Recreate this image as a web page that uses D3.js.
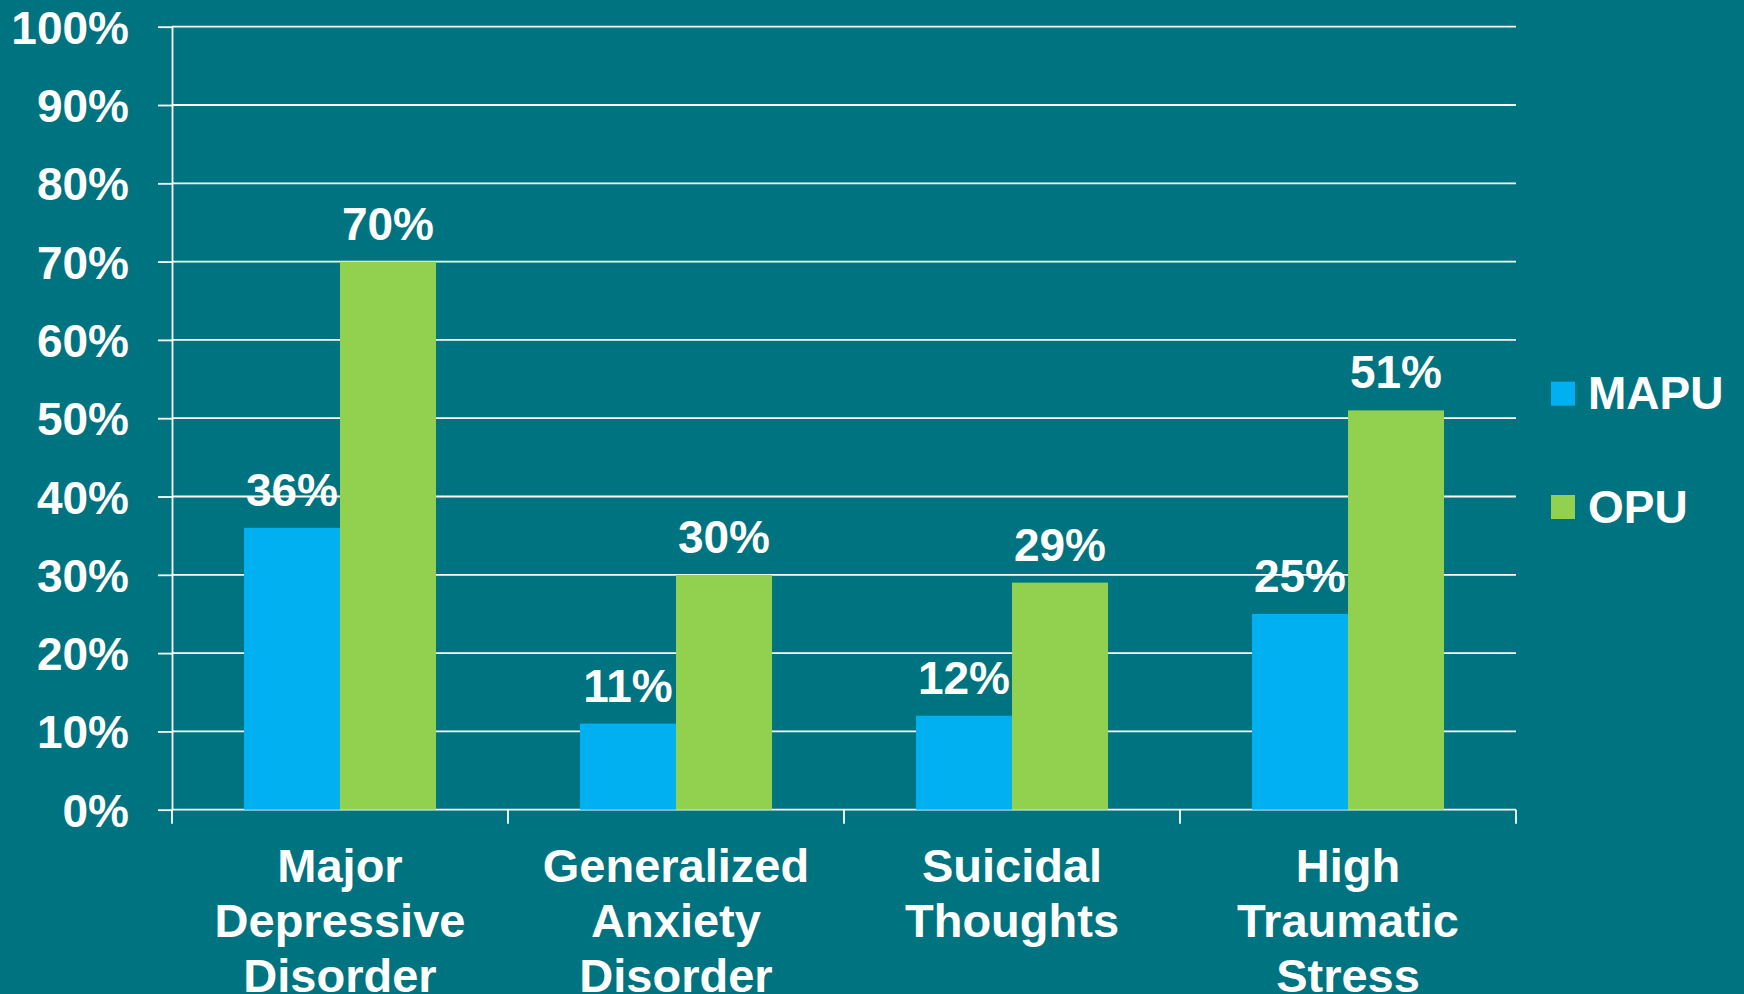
<!DOCTYPE html>
<html>
<head>
<meta charset="utf-8">
<script src="https://cdn.jsdelivr.net/npm/d3@7"></script>
<style>
  html, body { margin: 0; padding: 0; background: #007380; }
  svg { display: block; font-family: "Liberation Sans", Arial, sans-serif; font-weight: bold; }
</style>
</head>
<body>
<svg id="chart"></svg>
<script>
// Config
const width = 1744;
const height = 994;

// Data
const categories = [
  ["Major", "Depressive", "Disorder"],
  ["Generalized", "Anxiety", "Disorder"],
  ["Suicidal", "Thoughts"],
  ["High", "Traumatic", "Stress"]
];
const series = ["MAPU", "OPU"];
const mapuValues = [36, 11, 12, 25];
const opuValues = [70, 30, 29, 51];
const yTicks = [0, 10, 20, 30, 40, 50, 60, 70, 80, 90, 100];
const colors = { MAPU: "#00b0f0", OPU: "#92d050" };

const valuesBySeries = { MAPU: mapuValues, OPU: opuValues };
const catKeys = categories.map(c => c.join(" "));

const svg = d3.select("#chart")
  .attr("width", width)
  .attr("height", height);

// Escalas
const x = d3.scaleBand()
  .domain(catKeys)
  .range([172, 1516])
  .paddingInner(0)
  .paddingOuter(0);

const xSub = d3.scaleBand()
  .domain(series)
  .range([0, x.bandwidth()])
  .paddingInner(0)
  .paddingOuter(0.75);

const y = d3.scaleLinear()
  .domain([0, 100])
  .range([809.7, 26.7]);

// Gridlines
svg.append("g")
  .selectAll("line")
  .data(yTicks)
  .join("line")
  .attr("x1", 172)
  .attr("x2", 1516)
  .attr("y1", d => y(d))
  .attr("y2", d => y(d))
  .attr("stroke", "#ffffff")
  .attr("stroke-width", 1.8);

// Eje Y
const yAxis = svg.append("g")
  .attr("transform", "translate(172,0)")
  .call(d3.axisLeft(y)
    .tickValues(yTicks)
    .tickFormat(d => d + "%")
    .tickSize(14)
    .tickSizeOuter(0)
    .tickPadding(29));
yAxis.select(".domain").attr("stroke", "#ffffff").attr("stroke-width", 1.8);
yAxis.selectAll(".tick line").attr("stroke", "#ffffff").attr("stroke-width", 1.8);
yAxis.selectAll(".tick text")
  .attr("fill", "#ffffff")
  .attr("font-size", 46)
  .attr("font-family", "'Liberation Sans', Arial, sans-serif")
  .attr("font-weight", "bold")
  .attr("dy", "0.36em");

// Ticks del eje X en los bordes de cada banda
const xTickPos = catKeys.map(c => x(c)).concat([x.range()[1]]);
svg.append("g")
  .selectAll("line")
  .data(xTickPos)
  .join("line")
  .attr("x1", d => d)
  .attr("x2", d => d)
  .attr("y1", y(0))
  .attr("y2", y(0) + 14)
  .attr("stroke", "#ffffff")
  .attr("stroke-width", 1.8);

// Barras
const groups = svg.append("g")
  .selectAll("g")
  .data(catKeys)
  .join("g")
  .attr("transform", d => `translate(${x(d)},0)`);

groups.each(function(c, i) {
  const g = d3.select(this);
  series.forEach(s => {
    const v = valuesBySeries[s][i];
    g.append("rect")
      .attr("x", xSub(s))
      .attr("y", y(v))
      .attr("width", xSub.bandwidth())
      .attr("height", y(0) - y(v))
      .attr("fill", colors[s]);
  });
  series.forEach(s => {
    const v = valuesBySeries[s][i];
    g.append("text")
      .attr("x", xSub(s) + xSub.bandwidth() / 2)
      .attr("y", y(v) - 22)
      .attr("text-anchor", "middle")
      .attr("fill", "#ffffff")
      .attr("font-size", 46)
      .text(v + "%");
  });
});

// Etiquetas de categorias
categories.forEach((lines, i) => {
  const t = svg.append("text")
    .attr("x", x(catKeys[i]) + x.bandwidth() / 2)
    .attr("y", 882)
    .attr("text-anchor", "middle")
    .attr("fill", "#ffffff")
    .attr("font-size", 47);
  lines.forEach((line, j) => {
    t.append("tspan")
      .attr("x", x(catKeys[i]) + x.bandwidth() / 2)
      .attr("y", 882 + j * 55)
      .text(line);
  });
});

// Leyenda
const legend = svg.append("g")
  .selectAll("g")
  .data(series)
  .join("g")
  .attr("transform", (d, i) => `translate(1551,${381.7 + i * 113.3})`);

legend.append("rect")
  .attr("width", 24)
  .attr("height", 24)
  .attr("fill", d => colors[d]);

legend.append("text")
  .attr("x", 37)
  .attr("y", 27.5)
  .attr("fill", "#ffffff")
  .attr("font-size", 46)
  .text(d => d);
</script>
</body>
</html>
